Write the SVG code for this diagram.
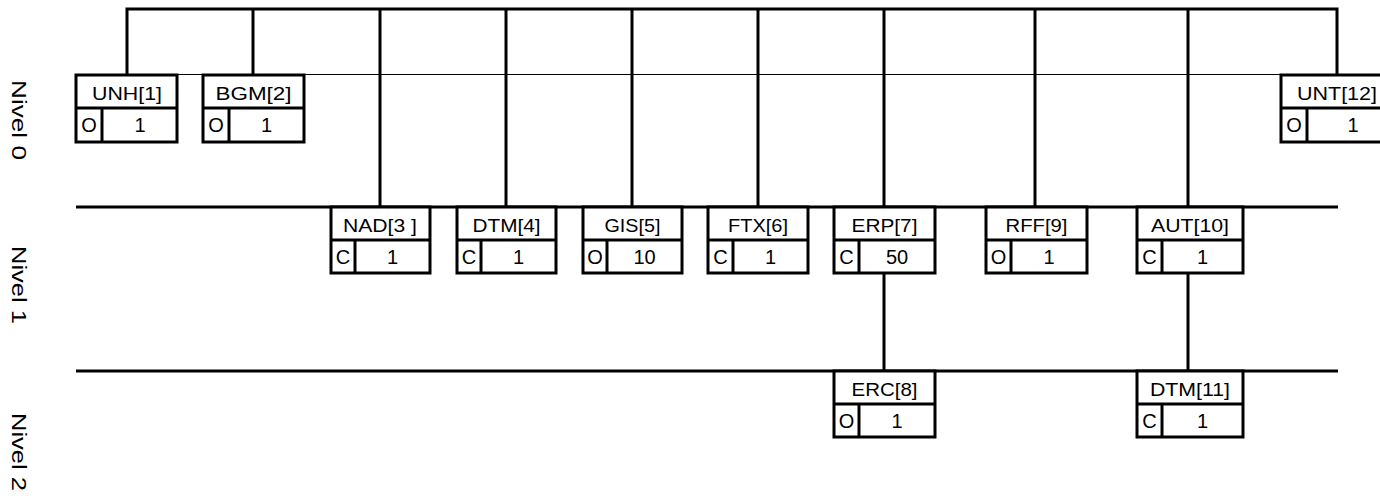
<svg xmlns="http://www.w3.org/2000/svg" width="1380" height="499" viewBox="0 0 1380 499">
<style>
.bx{fill:#fff;stroke:#000;stroke-width:3}
.ln{stroke:#000;stroke-width:3;fill:none}
.thin{stroke:#000;stroke-width:1;fill:none}
text{font-family:"Liberation Sans",Arial,sans-serif;font-size:19px;fill:#000}
.h{text-anchor:middle}
.c{text-anchor:middle;font-size:20px}
.lv{font-size:20px;text-anchor:middle}
</style>
<rect width="1380" height="499" fill="#fff"/>
<g id="levels">
<line class="thin" x1="75" y1="74.5" x2="1340" y2="74.5"/>
<line class="ln" x1="76" y1="207" x2="1338" y2="207"/>
<line class="ln" x1="76" y1="371" x2="1338" y2="371"/>
<text class="lv" transform="translate(12,120) rotate(90)" textLength="80" lengthAdjust="spacingAndGlyphs">Nivel 0</text>
<text class="lv" transform="translate(12,285) rotate(90)" textLength="78" lengthAdjust="spacingAndGlyphs">Nivel 1</text>
<text class="lv" transform="translate(12,452) rotate(90)" textLength="78" lengthAdjust="spacingAndGlyphs">Nivel 2</text>
</g>
<g id="connectors">
<polyline class="ln" points="127,75 127,9 1337,9 1337,75"/>
<line class="ln" x1="253" y1="9" x2="253" y2="75"/>
<line class="ln" x1="380" y1="9" x2="380" y2="207"/>
<line class="ln" x1="506" y1="9" x2="506" y2="207"/>
<line class="ln" x1="632" y1="9" x2="632" y2="207"/>
<line class="ln" x1="758" y1="9" x2="758" y2="207"/>
<line class="ln" x1="884" y1="9" x2="884" y2="207"/>
<line class="ln" x1="1035" y1="9" x2="1035" y2="207"/>
<line class="ln" x1="1188" y1="9" x2="1188" y2="207"/>
<line class="ln" x1="884" y1="273" x2="884" y2="371"/>
<line class="ln" x1="1188" y1="273" x2="1188" y2="371"/>
</g>
<g id="UNH1">
<rect class="bx" x="76" y="75" width="101" height="67"/>
<line class="ln" x1="76" y1="108" x2="177" y2="108"/><line class="ln" x1="102" y1="108" x2="102" y2="142"/>
<text class="h" x="127" y="100" textLength="70" lengthAdjust="spacingAndGlyphs">UNH[1]</text>
<text class="c" x="89" y="132">O</text><text class="c" x="140" y="132">1</text>
</g>
<g id="BGM2">
<rect class="bx" x="203" y="75" width="101" height="67"/>
<line class="ln" x1="203" y1="108" x2="304" y2="108"/><line class="ln" x1="229" y1="108" x2="229" y2="142"/>
<text class="h" x="253.5" y="100" textLength="76" lengthAdjust="spacingAndGlyphs">BGM[2]</text>
<text class="c" x="216" y="132">O</text><text class="c" x="266.5" y="132">1</text>
</g>
<g id="UNT12">
<rect class="bx" x="1281" y="75" width="102" height="67"/>
<line class="ln" x1="1281" y1="108" x2="1383" y2="108"/><line class="ln" x1="1307" y1="108" x2="1307" y2="142"/>
<text class="h" x="1337" y="100" textLength="80" lengthAdjust="spacingAndGlyphs">UNT[12]</text>
<text class="c" x="1294" y="132">O</text><text class="c" x="1353" y="132">1</text>
</g>
<g id="NAD3">
<rect class="bx" x="331" y="207" width="99" height="66"/>
<line class="ln" x1="331" y1="240" x2="430" y2="240"/><line class="ln" x1="355" y1="240" x2="355" y2="273"/>
<text class="h" x="380" y="232" textLength="74" lengthAdjust="spacingAndGlyphs">NAD[3 ]</text>
<text class="c" x="343" y="264">C</text><text class="c" x="392.5" y="264">1</text>
</g>
<g id="DTM4">
<rect class="bx" x="457" y="207" width="99" height="66"/>
<line class="ln" x1="457" y1="240" x2="556" y2="240"/><line class="ln" x1="481" y1="240" x2="481" y2="273"/>
<text class="h" x="506.5" y="232" textLength="68" lengthAdjust="spacingAndGlyphs">DTM[4]</text>
<text class="c" x="469" y="264">C</text><text class="c" x="518.5" y="264">1</text>
</g>
<g id="GIS5">
<rect class="bx" x="583" y="207" width="99" height="66"/>
<line class="ln" x1="583" y1="240" x2="682" y2="240"/><line class="ln" x1="607" y1="240" x2="607" y2="273"/>
<text class="h" x="632.5" y="232" textLength="56" lengthAdjust="spacingAndGlyphs">GIS[5]</text>
<text class="c" x="595" y="264">O</text><text class="c" x="644.5" y="264">10</text>
</g>
<g id="FTX6">
<rect class="bx" x="708" y="207" width="100" height="66"/>
<line class="ln" x1="708" y1="240" x2="808" y2="240"/><line class="ln" x1="733" y1="240" x2="733" y2="273"/>
<text class="h" x="758" y="232" textLength="60" lengthAdjust="spacingAndGlyphs">FTX[6]</text>
<text class="c" x="720.5" y="264">C</text><text class="c" x="770.5" y="264">1</text>
</g>
<g id="ERP7">
<rect class="bx" x="834" y="207" width="101" height="66"/>
<line class="ln" x1="834" y1="240" x2="935" y2="240"/><line class="ln" x1="859" y1="240" x2="859" y2="273"/>
<text class="h" x="884.5" y="232" textLength="66" lengthAdjust="spacingAndGlyphs">ERP[7]</text>
<text class="c" x="846.5" y="264">C</text><text class="c" x="897" y="264">50</text>
</g>
<g id="RFF9">
<rect class="bx" x="986" y="207" width="101" height="66"/>
<line class="ln" x1="986" y1="240" x2="1087" y2="240"/><line class="ln" x1="1011" y1="240" x2="1011" y2="273"/>
<text class="h" x="1036.5" y="232" textLength="62" lengthAdjust="spacingAndGlyphs">RFF[9]</text>
<text class="c" x="998.5" y="264">O</text><text class="c" x="1049" y="264">1</text>
</g>
<g id="AUT10">
<rect class="bx" x="1137" y="207" width="106" height="66"/>
<line class="ln" x1="1137" y1="240" x2="1243" y2="240"/><line class="ln" x1="1162" y1="240" x2="1162" y2="273"/>
<text class="h" x="1190" y="232" textLength="78" lengthAdjust="spacingAndGlyphs">AUT[10]</text>
<text class="c" x="1149.5" y="264">C</text><text class="c" x="1202.5" y="264">1</text>
</g>
<g id="ERC8">
<rect class="bx" x="834" y="371" width="101" height="66"/>
<line class="ln" x1="834" y1="404" x2="935" y2="404"/><line class="ln" x1="859" y1="404" x2="859" y2="437"/>
<text class="h" x="884.5" y="396" textLength="66" lengthAdjust="spacingAndGlyphs">ERC[8]</text>
<text class="c" x="846.5" y="428">O</text><text class="c" x="897" y="428">1</text>
</g>
<g id="DTM11">
<rect class="bx" x="1137" y="371" width="106" height="66"/>
<line class="ln" x1="1137" y1="404" x2="1243" y2="404"/><line class="ln" x1="1162" y1="404" x2="1162" y2="437"/>
<text class="h" x="1190" y="396" textLength="80" lengthAdjust="spacingAndGlyphs">DTM[11]</text>
<text class="c" x="1149.5" y="428">C</text><text class="c" x="1202.5" y="428">1</text>
</g>
</svg>
